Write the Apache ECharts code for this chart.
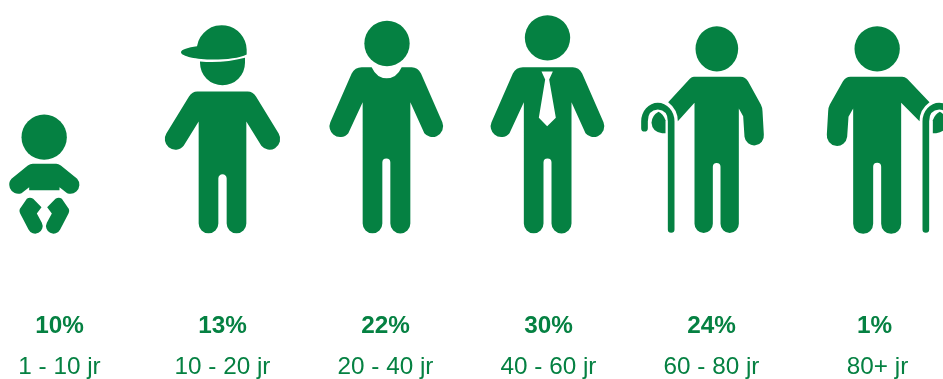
<!DOCTYPE html>
<html>
<head>
<meta charset="utf-8">
<style>html,body{margin:0;padding:0;background:#fff}#chart{width:943px;height:379px}</style>
<script src="https://cdn.jsdelivr.net/npm/echarts@6/dist/echarts.min.js"></script>
</head>
<body>
<div id="chart"></div>
<script>
// Age distribution
const ageGroups = ['1 - 10 jr', '10 - 20 jr', '20 - 40 jr', '40 - 60 jr', '60 - 80 jr', '80+ jr'];
const shares = [10, 13, 22, 30, 24, 1];

const GREEN = '#058142';
const UNIT = 1 / 3; // icon outlines are drawn on a 3x grid

// One pictogram per age group. "anchor" is the outline point placed on the
// category centre at the axis baseline; "solid" is filled green, "cut" white.
const ICONS = [
  { // baby
    anchor: [180, 702],
    solid: [
      'M66 413 A68 68 0 1 1 202 413 A68 68 0 1 1 66 413 Z',
      'M100 493 L170 493 Q177 493 184 498 L233 538 A27 27 0 0 1 203 581 L180 563 L180 572 L89 572 L89 563 L66 581 A27 27 0 0 1 36 538 L85 498 Q92 493 100 493 Z',
      'M82 598 Q91 591 101 598 L126 623 L112 642 L127 670 A22 22 0 0 1 87 690 L62 642 Q57 632 64 624 Z',
      'M187 598 Q178 591 168 598 L143 623 L157 642 L142 670 A22 22 0 0 0 182 690 L207 642 Q212 632 205 624 Z'
    ]
  },
  { // boy with a cap
    anchor: [667.5, 702],
    solid: [
      'M591 140 A75 75 0 0 1 740 150 L740 165 C720 176 680 180 640 180 C590 180 543 170 543 158 C543 150 565 143 591 140 Z',
      'M600 186 Q670 192 735 175 L735 190 A67.5 67.5 0 0 1 600 190 Z',
      'M592 276 L743 276 Q758 276 768 291 L836 402 A32 32 0 0 1 784 439 L739 366 L739 672 A29.5 29.5 0 0 1 680 672 L680 537 A12.5 12.5 0 0 0 655 537 L655 672 A29.5 29.5 0 0 1 596 672 L596 366 L551 439 A32 32 0 0 1 499 402 L567 291 Q577 276 592 276 Z'
    ]
  },
  { // adult with round collar
    anchor: [226.5, 702],
    solid: [
      'M163 132 A68 68 0 1 1 299 132 A68 68 0 1 1 163 132 Z',
      'M155 203 L185 203 Q200 236 230 236 Q260 236 275 203 L305 203 Q323 203 333 222 L397 368 A32 32 0 0 1 343 401 L301 308 L301 672 A30 30 0 0 1 241 672 L241 489 A12 12 0 0 0 217 489 L217 672 A29.5 29.5 0 0 1 158 672 L158 308 L115 401 A32 32 0 0 1 61 368 L125 222 Q135 203 155 203 Z'
    ]
  },
  { // adult with a tie
    anchor: [714, 702],
    solid: [
      'M643 115 A68 68 0 1 1 779 115 A68 68 0 1 1 643 115 Z',
      'M637 203 L787 203 Q805 203 815 222 L879 368 A32 32 0 0 1 825 401 L783 308 L783 672 A30 30 0 0 1 723 672 L723 489 A12 12 0 0 0 699 489 L699 672 A29.5 29.5 0 0 1 640 672 L640 308 L597 401 A32 32 0 0 1 543 368 L607 222 Q617 203 637 203 Z'
    ],
    cut: ['M693 216 L727 216 L716 240 L736 355 L710 380 L685 355 L704 240 Z']
  },
  { // senior with a cane on the left
    anchor: [243, 672],
    solid: [
      'M195 118 A64 68 0 1 1 323 118 A64 68 0 1 1 195 118 Z',
      'M190 202 L330 202 Q345 202 353 216 L391 285 Q396 295 396 305 L400 375 A29 29 0 0 1 342 382 L338 320 L325 297 L325 643 A27.5 27.5 0 0 1 270 643 L270 472 A11.5 11.5 0 0 0 247 472 L247 643 A27.5 27.5 0 0 1 192 643 L192 280 L142 335 Q142 300 113 278 L178 208 Q184 202 190 202 Z',
      'M112 660 L112 335 Q112 302 82 300 Q52 302 52 335 L52 356 A10 10 0 0 1 32 356 L32 335 A50 55 0 0 1 132 335 L132 660 A10 10 0 0 1 112 660 Z',
      'M105 371 L105 332 Q97 312 84 307 Q64 318 63 340 Q65 368 95 371 Z'
    ]
  },
  { // senior with a cane on the right
    anchor: [732, 672],
    solid: [
      'M672 118 A68 68 0 1 1 808 118 A68 68 0 1 1 672 118 Z',
      'M665 202 L815 202 Q823 202 830 208 L897 278 Q867 300 867 335 L812 280 L812 643 A30 30 0 0 1 752 643 L752 472 A12 12 0 0 0 728 472 L728 643 A30 30 0 0 1 668 643 L668 297 L654 322 L650 382 A30.5 30.5 0 0 1 589 375 L593 305 Q593 295 598 285 L637 216 Q645 202 660 202 Z',
      'M896 660 L896 335 Q896 302 926 300 Q956 302 956 335 L956 356 A10 10 0 0 0 976 356 L976 335 A50 55 0 0 0 876 335 L876 660 A10 10 0 0 0 896 660 Z',
      'M907 371 L907 332 Q915 312 928 307 Q948 318 949 340 Q947 368 917 371 Z'
    ]
  }
];

function drawIcon(params, api) {
  const index = api.value(0);
  const icon = ICONS[index];
  const base = api.coord([index, 0]);
  const toPath = fill => d => ({
    type: 'path',
    shape: { pathData: d },
    style: { fill: fill, stroke: null }
  });
  return {
    type: 'group',
    x: base[0] - icon.anchor[0] * UNIT,
    y: base[1] - icon.anchor[1] * UNIT,
    scaleX: UNIT,
    scaleY: UNIT,
    children: icon.solid.map(toPath(GREEN)).concat((icon.cut || []).map(toPath('#ffffff')))
  };
}

const LABEL_FONT = '"Liberation Sans", Arial, sans-serif';
const ageStyle = { fontFamily: LABEL_FONT, fontSize: 24.3, color: GREEN, lineHeight: 41.5, align: 'center' };

const chart = echarts.init(document.getElementById('chart'), null, { renderer: 'canvas' });
chart.setOption({
  animation: false,
  backgroundColor: '#ffffff',
  grid: { left: 59.5, top: 0, width: 815, height: 236, containLabel: false },
  xAxis: {
    type: 'category',
    boundaryGap: false,
    data: ageGroups,
    axisLine: { show: false },
    axisTick: { show: false },
    splitLine: { show: false },
    axisLabel: {
      interval: 0,
      margin: 72.75,
      hideOverlap: false,
      // the open-ended group sits slightly right of its percentage
      formatter: (name, i) => '{pct|' + shares[i] + '%}\n{' + (i === ageGroups.length - 1 ? 'ageOpen' : 'age') + '|' + name + '}',
      rich: {
        pct: { fontFamily: LABEL_FONT, fontSize: 24.3, fontWeight: 'bold', color: GREEN, lineHeight: 40, align: 'center' },
        age: ageStyle,
        ageOpen: Object.assign({}, ageStyle, { padding: [0, 0, 0, 6] })
      }
    }
  },
  yAxis: { type: 'value', min: 0, max: 100, show: false },
  series: [{
    type: 'custom',
    coordinateSystem: 'cartesian2d',
    renderItem: drawIcon,
    encode: { x: 0, y: 1 },
    data: shares.map((share, i) => [i, share]),
    silent: true
  }]
});
</script>
</body>
</html>
